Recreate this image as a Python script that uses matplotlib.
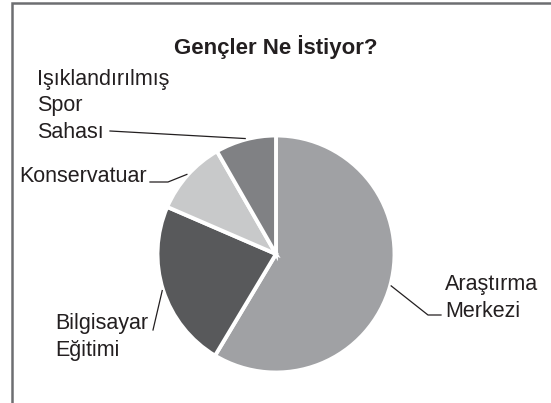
import numpy as np
import matplotlib
matplotlib.use("Agg")
import matplotlib.pyplot as plt

# ---- data ----
categories = ["Araştırma\nMerkezi", "Bilgisayar\nEğitimi", "Konservatuar", "Işıklandırılmış\nSpor\nSahası"]
values = [58.6, 22.9, 10.2, 8.3]
colors = ["#a0a1a4", "#58595b", "#c8c9ca", "#808184"]
title = "Gençler Ne İstiyor?"

W, H = 551, 403
plt.rcParams['font.family'] = ['Liberation Sans', 'DejaVu Sans']
TXT = "#231f20"

fig = plt.figure(figsize=(W / 100, H / 100), dpi=100)
ax = fig.add_axes([0, 0, 1, 1])
ax.set_xlim(0, W)
ax.set_ylim(0, H)
ax.axis('off')

def Y(y):
    return H - y

# frame (top and left only)
ax.plot([12, 12, W], [Y(H + 5), Y(3), Y(3)], color="#6d6e71", lw=1.8,
        solid_joinstyle='miter', clip_on=False)

cx, cy, r = 276, Y(254), 118.5
wedges, _ = ax.pie(values, colors=colors, startangle=90, counterclock=False,
                   center=(cx, cy), radius=r,
                   wedgeprops=dict(edgecolor='white', linewidth=2.8))
ax.set_xlim(0, W)
ax.set_ylim(0, H)
ax.set_aspect('equal')

# mid-angle anchor points on the pie rim
def rim(i, extra=1.0):
    w = wedges[i]
    ang = np.deg2rad((w.theta1 + w.theta2) / 2)
    return cx + (r + extra) * np.cos(ang), cy + (r + extra) * np.sin(ang)

lk = dict(color=TXT, lw=0.9)
fs = 15.5
ls = 1.32

ax.text(276, Y(47), title, ha='center', va='center', fontsize=16,
        fontweight='bold', color=TXT)

# Araştırma Merkezi
px, py = rim(0)
ax.plot([px, 428, 441], [py, Y(315), Y(315)], **lk)
ax.text(445, Y(298), categories[0], ha='left', va='center', fontsize=fs,
        color=TXT, linespacing=1.4)

# Bilgisayar Eğitimi
px, py = rim(1)
ax.plot([153, px], [Y(330), py], **lk)
ax.text(55, Y(337), categories[1], ha='left', va='center', fontsize=fs,
        color=TXT, linespacing=ls)

# Konservatuar
px, py = rim(2)
ax.plot([150, 168, px], [Y(182), Y(182), py], **lk)
ax.text(147, Y(177), categories[2], ha='right', va='center', fontsize=fs,
        color=TXT)

# Işıklandırılmış Spor Sahası
px, py = rim(3)
ax.plot([110, px], [Y(131), py], **lk)
ax.text(37, Y(106), categories[3], ha='left', va='center', fontsize=fs,
        color=TXT, linespacing=ls)

fig.savefig("out.png", dpi=100, facecolor='white')
